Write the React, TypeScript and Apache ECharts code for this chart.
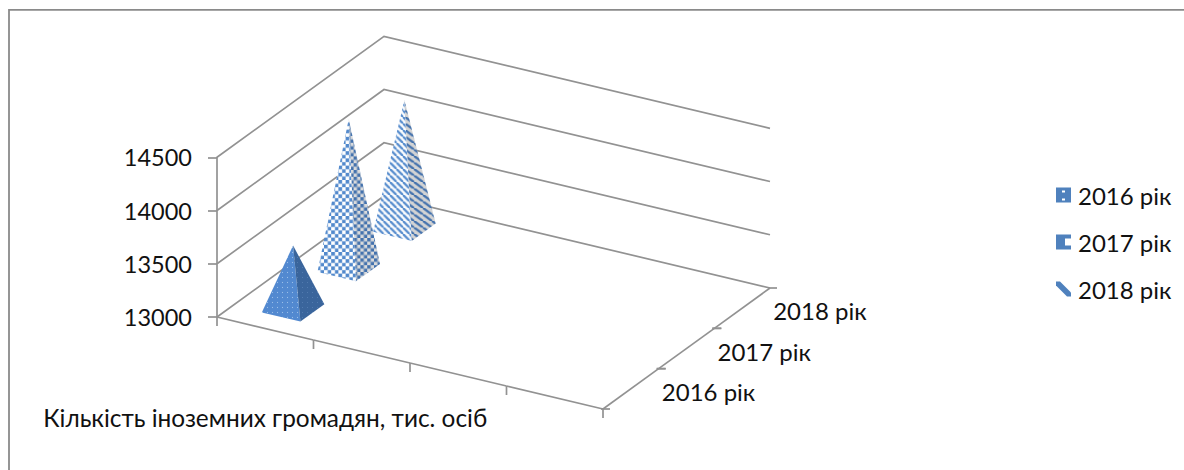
import React, { useEffect, useRef } from "react";
import * as echarts from "echarts";

const xCategories = ["Кількість іноземних громадян, тис. осіб"];
const depthCategories = ["2016 рік", "2017 рік", "2018 рік"];
const values2016 = [13590];
const values2017 = [14400];
const values2018 = [14200];
const yTicks = [13000, 13500, 14000, 14500];
const xTicks = [0, 1, 2, 3, 4];

const FONT = "Lato, 'Open Sans', sans-serif";
const LINE = "#929292";
const LINE_W = 1.7;
const FRONT_DY = 92;
const DEPTH_DX = 167;
const DEPTH_DY = -121;
const X_MAX = 4;
const DEPTHS = 3;

function project(api: any, x: number, v: number, d: number) {
  const p = api.coord([x, v]);
  return [p[0] + (d / DEPTHS) * DEPTH_DX, p[1] + (x / X_MAX) * FRONT_DY + (d / DEPTHS) * DEPTH_DY];
}

function tile(w: number, h: number, draw: (c: CanvasRenderingContext2D) => void) {
  const k = 4;
  const cv = document.createElement("canvas");
  cv.width = w * k;
  cv.height = h * k;
  const c = cv.getContext("2d") as CanvasRenderingContext2D;
  c.scale(k, k);
  draw(c);
  return { image: cv.toDataURL(), repeat: "repeat", imageWidth: w, imageHeight: h };
}
function dots(bg: string, fg: string, s: number, r: number) {
  return tile(s, s, (c) => {
    c.fillStyle = bg;
    c.fillRect(0, 0, s, s);
    c.fillStyle = fg;
    c.beginPath();
    c.arc(s / 2, s / 2, r, 0, Math.PI * 2);
    c.fill();
  });
}
function checker(bg: string, fg: string, s: number) {
  return tile(s * 2, s * 2, (c) => {
    c.fillStyle = bg;
    c.fillRect(0, 0, s * 2, s * 2);
    c.fillStyle = fg;
    c.fillRect(0, 0, s, s);
    c.fillRect(s, s, s, s);
  });
}
function stripes(bg: string, fg: string, w: number, h: number, t: number) {
  return tile(w, h, (c) => {
    c.fillStyle = bg;
    c.fillRect(0, 0, w, h);
    c.strokeStyle = fg;
    c.lineWidth = t;
    for (const o of [-w, 0, w]) {
      c.beginPath();
      c.moveTo(o, 0);
      c.lineTo(o + w, h);
      c.stroke();
    }
  });
}

function pyramid(idx: number, lightFill: any, darkFill: any) {
  return (params: any, api: any) => {
    const x = api.value(0);
    const v = api.value(1);
    const d = idx + 0.5;
    const du = 0.2;
    const dv = 0.215;
    const base = yTicks[0];
    const left = project(api, x - du, base, d - dv);
    const front = project(api, x + du, base, d - dv);
    const right = project(api, x + du, base, d + dv);
    const apex = project(api, x, v, d);
    return {
      type: "group",
      children: [
        { type: "polygon", shape: { points: [apex, left, front] }, style: { fill: lightFill } },
        { type: "polygon", shape: { points: [apex, front, right] }, style: { fill: darkFill } },
      ],
    };
  };
}

function line(a: number[], b: number[]) {
  return {
    type: "line",
    shape: { x1: a[0], y1: a[1], x2: b[0], y2: b[1] },
    style: { stroke: LINE, lineWidth: LINE_W },
  };
}

const wallsItem = (params: any, api: any) => {
  const v = api.value(1);
  const a = project(api, 0, v, 0);
  const b = project(api, 0, v, DEPTHS);
  const c = project(api, X_MAX, v, DEPTHS);
  return {
    type: "polyline",
    shape: { points: [a, b, c] },
    style: { fill: "none", stroke: LINE, lineWidth: LINE_W },
  };
};

const floorItem = (params: any, api: any) => {
  const x = api.value(0);
  const base = yTicks[0];
  const p = project(api, x, base, 0);
  const kids: any[] = [line(p, [p[0], p[1] + 9])];
  if (x < X_MAX) kids.push(line(p, project(api, x + 1, base, 0)));
  return { type: "group", children: kids };
};

const depthItem = (params: any, api: any) => {
  const i = params.dataIndex;
  const base = yTicks[0];
  const a = project(api, X_MAX, base, i);
  const b = project(api, X_MAX, base, i + 1);
  const mid = project(api, X_MAX, base, i + 0.5);
  return {
    type: "group",
    children: [
      line(a, b),
      line([a[0] - 2, a[1]], [a[0] + 7, a[1]]),
      line([b[0] - 2, b[1]], [b[0] + 7, b[1]]),
      {
        type: "text",
        style: {
          x: mid[0] + 31,
          y: mid[1] + 2.5,
          text: depthCategories[i],
          fill: "#111",
          font: `24px ${FONT}`,
          verticalAlign: "middle",
        },
      },
    ],
  };
};

const xLabelItem = (params: any, api: any) => {
  const p = project(api, api.value(0), yTicks[0], 0);
  return {
    type: "text",
    style: {
      x: p[0],
      y: p[1] + 88.5,
      text: xCategories[params.dataIndex],
      fill: "#111",
      font: `24.4px ${FONT}`,
      align: "center",
      verticalAlign: "middle",
    },
  };
};

export default function App() {
  const ref = useRef<HTMLDivElement>(null);
  useEffect(() => {
    const chart = echarts.init(ref.current as HTMLDivElement, undefined, { renderer: "svg" });
    const solidLight = dots("#5289d0", "#9dc0ea", 5, 0.6);
    const solidDark = dots("#3a659c", "#5a83b6", 5, 0.5);
    const checkLight = checker("#ffffff", "#5289cc", 3.6);
    const checkDark = checker("#dcdcdc", "#4271ad", 3.4);
    const stripeLight = stripes("#ffffff", "#5289cc", 6.5, 6.5, 2.2);
    const stripeDark = stripes("#d4d4d4", "#4271ad", 9, 6.5, 2.2);
    const blue = "#4f81bd";
    const names = depthCategories;
    chart.setOption({
      animation: false,
      backgroundColor: "#fff",
      textStyle: { fontFamily: FONT },
      graphic: [
        {
          type: "polyline",
          shape: { points: [[9, 470], [9, 9.8], [1184, 9.8]] },
          style: { fill: "none", stroke: "#8a8a8a", lineWidth: 1.8 },
          silent: true,
          z: 0,
        },
      ],
      grid: { left: 217, top: 157.3, width: 386, height: 159.7, containLabel: false },
      xAxis: { type: "value", min: 0, max: X_MAX, interval: 1, show: false },
      yAxis: {
        type: "value",
        min: yTicks[0],
        max: yTicks[yTicks.length - 1],
        interval: 500,
        splitLine: { show: false },
        axisLine: { show: true, lineStyle: { color: LINE, width: LINE_W } },
        axisTick: { show: true, length: 9, lineStyle: { color: LINE, width: LINE_W } },
        axisLabel: {
          margin: 25,
          fontSize: 23.5,
          color: "#111",
          fontFamily: FONT,
          formatter: (v: number) => String(v),
        },
      },
      legend: {
        orient: "vertical",
        left: 1056,
        top: 183,
        padding: 0,
        itemWidth: 15,
        itemHeight: 15,
        itemGap: 23,
        selectedMode: false,
        textStyle: { fontSize: 24, color: "#111", fontFamily: FONT, padding: [0, 0, 0, 2] },
        data: [
          {
            name: names[0],
            icon: "path://M0 0H15V15H0ZM6 3V5H9V3ZM6 11V13H9V11Z",
            itemStyle: { color: blue },
          },
          { name: names[1], icon: "path://M0 0H15V4H9V11H15V15H0Z", itemStyle: { color: blue } },
          { name: names[2], icon: "path://M0 0H4L15 11V15H11L0 4Z", itemStyle: { color: blue } },
        ],
      },
      series: [
        {
          type: "custom",
          name: "walls",
          coordinateSystem: "cartesian2d",
          renderItem: wallsItem,
          data: yTicks.map((v) => [0, v]),
          z: 1,
          silent: true,
        },
        {
          type: "custom",
          name: "floor",
          coordinateSystem: "cartesian2d",
          renderItem: floorItem,
          data: xTicks.map((x) => [x, yTicks[0]]),
          z: 1,
          silent: true,
        },
        {
          type: "custom",
          name: "depth",
          coordinateSystem: "cartesian2d",
          renderItem: depthItem,
          data: depthCategories.map((_, i) => [X_MAX, yTicks[0], i]),
          z: 1,
          silent: true,
        },
        {
          type: "custom",
          name: "xlabel",
          coordinateSystem: "cartesian2d",
          renderItem: xLabelItem,
          data: xCategories.map((_, i) => [i + 0.5, yTicks[0]]),
          z: 1,
          silent: true,
        },
        {
          type: "custom",
          name: names[2],
          coordinateSystem: "cartesian2d",
          renderItem: pyramid(2, stripeLight, stripeDark),
          data: values2018.map((v, i) => [i + 0.5, v]),
          itemStyle: { color: blue },
          z: 2,
        },
        {
          type: "custom",
          name: names[1],
          coordinateSystem: "cartesian2d",
          renderItem: pyramid(1, checkLight, checkDark),
          data: values2017.map((v, i) => [i + 0.5, v]),
          itemStyle: { color: blue },
          z: 3,
        },
        {
          type: "custom",
          name: names[0],
          coordinateSystem: "cartesian2d",
          renderItem: pyramid(0, solidLight, solidDark),
          data: values2016.map((v, i) => [i + 0.5, v]),
          itemStyle: { color: blue },
          z: 4,
        },
      ],
    } as any);
    return () => chart.dispose();
  }, []);
  return (
    <div
      ref={ref}
      style={{ position: "fixed", left: 0, top: 0, width: 1184, height: 470 }}
    />
  );
}
